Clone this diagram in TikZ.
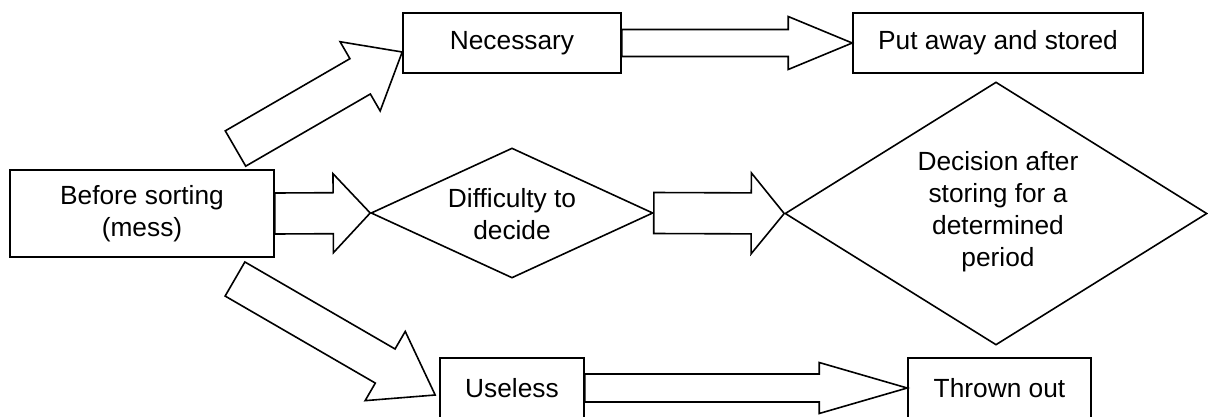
\documentclass[tikz,border=0pt]{standalone}
\usepackage{fontspec}
\setmainfont{Liberation Sans}
\usetikzlibrary{calc,shapes.geometric}

% Outlined block arrow: start, tip, half shaft width, half head width, head length
\newcommand\blockarrow[5]{%
  \coordinate (ba-s) at (#1);
  \coordinate (ba-t) at (#2);
  \coordinate (ba-h) at ($(ba-t)!#5!(ba-s)$);
  \draw[blockarrowline]
    ($(ba-s)!#3!90:(ba-t)$) -- ($(ba-h)!#3!90:(ba-t)$) --
    ($(ba-h)!#4!90:(ba-t)$) -- (ba-t) --
    ($(ba-h)!#4!-90:(ba-t)$) -- ($(ba-h)!#3!-90:(ba-t)$) --
    ($(ba-s)!#3!-90:(ba-t)$) -- cycle;
}

\tikzset{
  every node/.style={font=\fontsize{26.3}{32}\selectfont, align=center},
  box/.style={draw, line width=1.6pt, fill=white, inner sep=0pt},
  diam/.style={draw, diamond, line width=1.6pt, fill=white, inner sep=0pt},
  blockarrowline/.style={draw, line width=1.6pt, fill=white, line join=miter},
}

\begin{document}
\begin{tikzpicture}[x=1pt, y=-1pt]
  \useasboundingbox (0,0) rectangle (1208,416);
  \clip (0,0) rectangle (1208,416);
  \fill[white] (0,0) rectangle (1208,416);

  % boxes
  \node[box, minimum width=264pt, minimum height=87pt] (before) at (142,213.5)
    {Before sorting\\(mess)};
  \node[box, minimum width=218pt, minimum height=60pt] (necessary) at (512,43) {Necessary};
  \node[box, minimum width=290pt, minimum height=60pt] (put) at (998,43) {Put away and stored};
  \node[box, minimum width=144pt, minimum height=60pt] (useless) at (512,388) {Useless};
  \node[box, minimum width=183pt, minimum height=60pt] (thrown) at (999.5,388) {Thrown out};

  % decision diamonds
  \node[diam, minimum width=282pt, minimum height=130pt] (difficulty) at (512,213) {};
  \node (difficultytext) at (512,214) {Difficulty to\\decide};
  \node[diam, minimum width=422pt, minimum height=263pt] (decision) at (996,213.5) {};
  \node (decisiontext) at (998,212) {Decision after\\storing for a\\determined\\period};

  % free ends of the diagonal arrows
  \coordinate (uptail) at (235.5,148.5);
  \coordinate (uptip) at ([yshift=-9pt]necessary.west);
  \coordinate (downtail) at (235,279);
  \coordinate (downtip) at ([shift={(-4pt,-7pt)}]useless.west);

  % block arrows
  \blockarrow{uptail}{uptip}{20.4pt}{40pt}{48.6pt}
  \blockarrow{downtail}{downtip}{19.7pt}{40pt}{57.8pt}
  \blockarrow{before.east}{difficulty.west}{20.5pt}{39.5pt}{37pt}
  \blockarrow{difficulty.east}{decision.west}{20.5pt}{40.5pt}{33pt}
  \blockarrow{necessary.east}{put.west}{13.5pt}{26.5pt}{64pt}
  \blockarrow{useless.east}{thrown.west}{14pt}{25.5pt}{88pt}
\end{tikzpicture}
\end{document}
